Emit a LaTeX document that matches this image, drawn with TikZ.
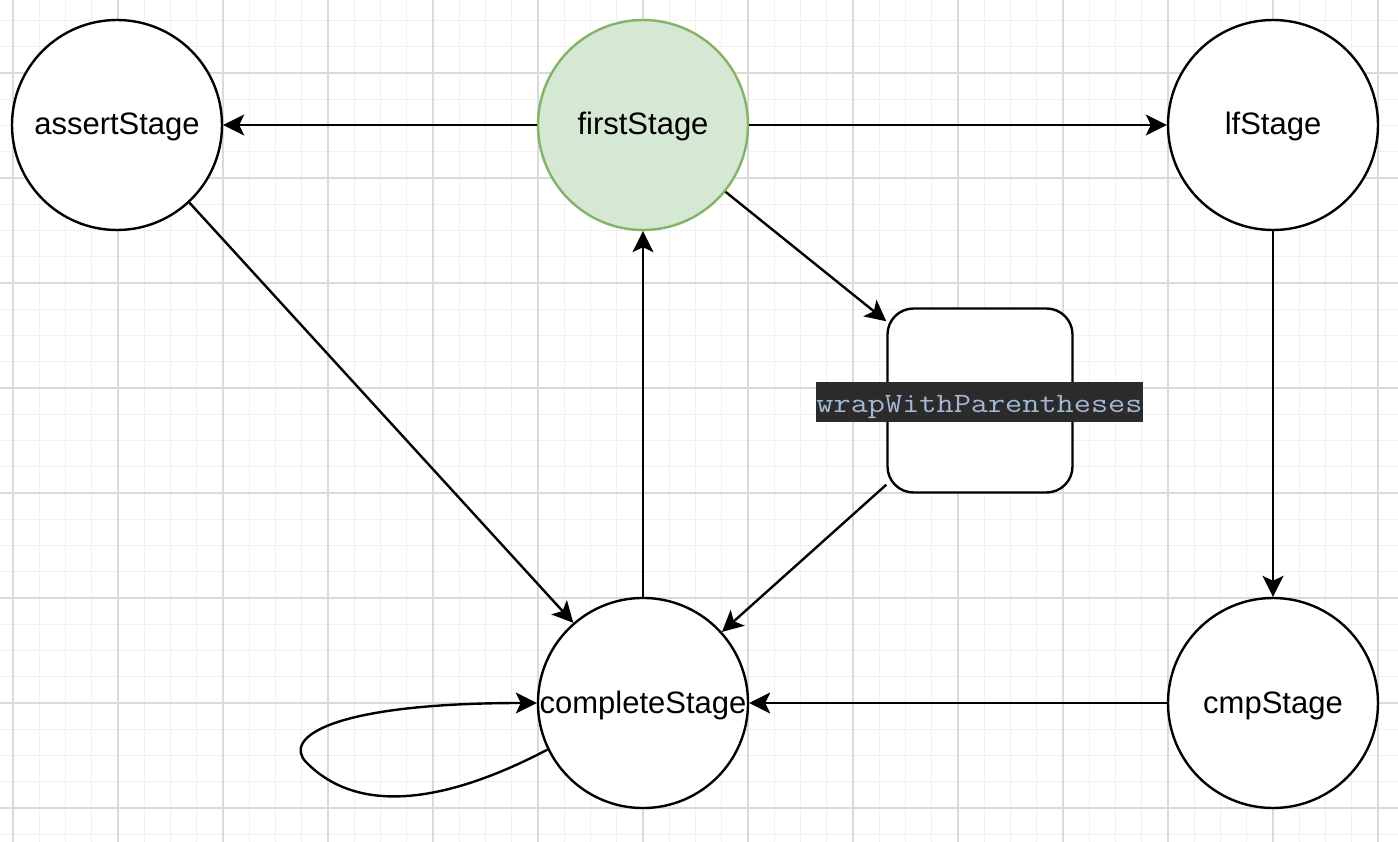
\documentclass[tikz,border=0pt]{standalone}
\usepackage{fontspec}
\setmainfont{Liberation Sans}
\usetikzlibrary{arrows.meta}
\definecolor{gmin}{HTML}{F0F0F0}
\definecolor{gmaj}{HTML}{DADADA}
\definecolor{gfill}{HTML}{D5E8D4}
\definecolor{gline}{HTML}{82B366}
\definecolor{labbg}{HTML}{2B2B2B}
\definecolor{labfg}{HTML}{A3B8D4}
\begin{document}
\begin{tikzpicture}[x=1pt,y=-1pt,
  st/.style={circle,draw=black,line width=2.4pt,minimum size=210pt,inner sep=0pt,fill=white,
    text height=30pt,text depth=10pt,font=\fontsize{31}{37}\selectfont},
  ar/.style={line width=2.4pt,-{Stealth[length=21pt,width=21pt,inset=5pt]}},
  minorline/.style={draw=gmin,line width=1pt},
  majorline/.style={draw=gmaj,line width=1.2pt}]
\useasboundingbox (0,0) rectangle (1398,842);
\fill[white] (0,0) rectangle (1398,842);
\foreach \x in {-13.25,13,...,1400} \draw[minorline] (\x,0) -- (\x,842);
\foreach \y in {-5.75,20.5,...,850} \draw[minorline] (0,\y) -- (1398,\y);
\foreach \x in {13,118,...,1400} \draw[majorline] (\x,0) -- (\x,842);
\foreach \y in {-32,73,...,850} \draw[majorline] (0,\y) -- (1398,\y);

\node[st] (assert) at (117,125) {assertStage};
\node[st,fill=gfill,draw=gline] (first) at (643,125) {firstStage};
\node[st] (lf) at (1273,125) {lfStage};
\node[st] (complete) at (643,703) {completeStage};
\node[st] (cmp) at (1273,703) {cmpStage};
\node[draw=black,line width=2.4pt,fill=white,rounded corners=26pt,minimum width=185pt,minimum height=184pt,inner sep=0pt] (wrap) at (980,400.5) {};
\node[fill=labbg,text=labfg,inner sep=0pt,minimum width=325pt,minimum height=40pt,
  text height=20pt,text depth=0pt,font=\ttfamily\fontsize{28}{32}\selectfont] (wraplabel) at (979.5,402) {\scalebox{1.19}[1]{wrapWithParentheses}};

\draw[ar] (first) -- (assert);
\draw[ar] (first) -- (lf);
\draw[ar] (first.-39) -- ([yshift=-14pt]wrap.north west);
\draw[ar] (assert.-47) -- (complete.131);
\draw[ar] ([yshift=9pt]wrap.south west) -- (complete.42);
\draw[ar] (complete) -- (first);
\draw[ar] (lf) -- (cmp);
\draw[ar] (cmp) -- (complete);
\draw[ar] (complete.206) .. controls (480,785) and (370,828) .. (306,762)
  .. controls (283,738) and (330,703) .. (complete.west);
\end{tikzpicture}
\end{document}
